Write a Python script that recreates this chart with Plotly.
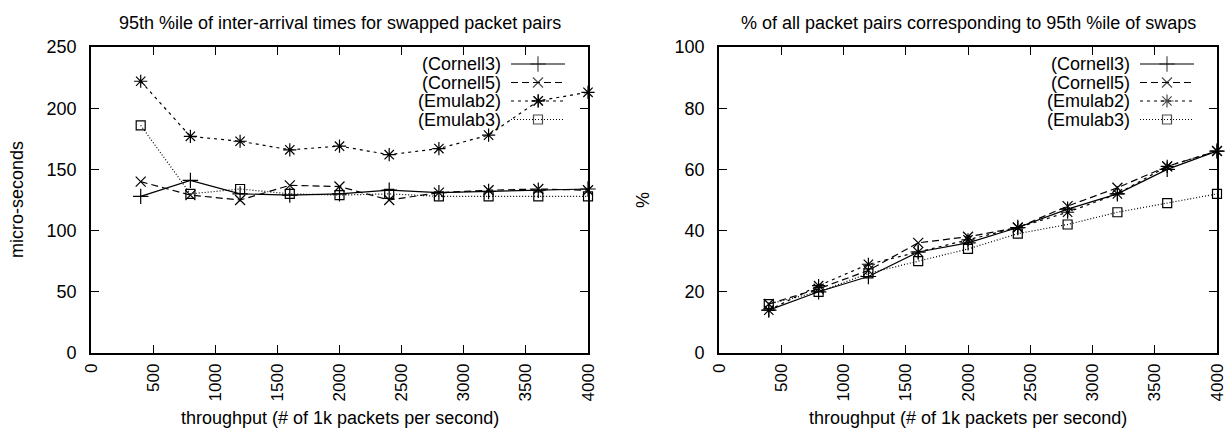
import plotly.graph_objects as go

# ---------------- data ----------------
throughput = [400, 800, 1200, 1600, 2000, 2400, 2800, 3200, 3600, 4000]
series_names = ["(Cornell3)", "(Cornell5)", "(Emulab2)", "(Emulab3)"]

# left: 95th %ile inter-arrival time (micro-seconds)
cornell3_iat = [128, 141, 130, 129, 130, 133, 131, 132, 133, 134]
cornell5_iat = [140, 129, 125, 137, 136, 125, 131, 133, 134, 133]
emulab2_iat = [222, 177, 173, 166, 169, 162, 167, 178, 206, 213]
emulab3_iat = [186, 130, 134, 130, 129, 130, 128, 128, 128, 128]

# right: % of all packet pairs
cornell3_pct = [14, 20, 25, 33, 36, 41, 47, 52, 60, 66]
cornell5_pct = [16, 21, 27, 36, 38, 41, 48, 54, 61, 66]
emulab2_pct = [14, 22, 29, 33, 37, 41, 46, 52, 61, 66]
emulab3_pct = [16, 20, 26, 30, 34, 39, 42, 46, 49, 52]

x_ticks = [0, 500, 1000, 1500, 2000, 2500, 3000, 3500, 4000]
left_y_ticks = [0, 50, 100, 150, 200, 250]
right_y_ticks = [0, 20, 40, 60, 80, 100]

left_title = "95th %ile of inter-arrival times for swapped packet pairs"
right_title = "% of all packet pairs corresponding to 95th %ile of swaps"
x_title = "throughput (# of 1k packets per second)"
left_y_title = "micro-seconds"
right_y_title = "%"

# ---------------- styles ----------------
W, H = 1228, 430
FONT = "Liberation Sans, Arial, Helvetica, sans-serif"
styles = [
    dict(dash="solid", symbol="cross-thin-open", size=11),
    dict(dash="7px,4px", symbol="x-thin-open", size=10),
    dict(dash="3px,4px", symbol="asterisk-open", size=11),
    dict(dash="1px,2px", symbol="square-open", size=9),
]
LW = 1.2

# plot frames in pixels
L_X0, L_X1 = 91, 588
R_X0, R_X1 = 719, 1217
Y_TOP, Y_BOT = 47, 353


def px(x):
    return x / W


def py(y):
    return 1 - y / H


fig = go.Figure()

left_data = [cornell3_iat, cornell5_iat, emulab2_iat, emulab3_iat]
right_data = [cornell3_pct, cornell5_pct, emulab2_pct, emulab3_pct]

for name, st, yl, yr in zip(series_names, styles, left_data, right_data):
    for xa, ya, yv in (("x", "y", yl), ("x2", "y2", yr)):
        fig.add_trace(go.Scatter(
            x=throughput, y=yv, xaxis=xa, yaxis=ya, name=name,
            mode="lines+markers", showlegend=False, cliponaxis=False,
            line=dict(color="black", width=LW, dash=st["dash"]),
            marker=dict(symbol=st["symbol"], size=st["size"], color="black",
                        line=dict(color="black", width=LW)),
        ))

# ---------------- gnuplot-style legends (hidden pixel axis) ----------------
legend_rows = [64, 82.5, 101, 119.5]
for frame_right in (L_X1, R_X1):
    line_x1 = frame_right - 23
    line_x0 = line_x1 - 54
    text_x = line_x0 - 8
    for name, st, ry in zip(series_names, styles, legend_rows):
        fig.add_trace(go.Scatter(
            x=[line_x0, (line_x0 + line_x1) / 2, line_x1], y=[ry, ry, ry],
            xaxis="x3", yaxis="y3", mode="lines+markers", showlegend=False,
            hoverinfo="skip",
            line=dict(color="black", width=LW, dash=st["dash"]),
            marker=dict(symbol=st["symbol"], size=[0, st["size"], 0], color="black",
                        line=dict(color="black", width=LW)),
        ))
        fig.add_annotation(x=px(text_x), y=py(ry), xref="paper", yref="paper",
                           text=name, showarrow=False, xanchor="right", yanchor="middle",
                           font=dict(family=FONT, size=18, color="black"))

axis_common = dict(
    showgrid=False, zeroline=False, showline=True, linecolor="black", linewidth=1.6,
    mirror="ticks", ticks="inside", ticklen=8, tickwidth=1.4, tickcolor="black",
    automargin=False,
)
yfont = dict(family=FONT, size=18, color="black")
xfont = dict(family=FONT, size=17, color="black")

fig.update_layout(
    width=W, height=H, margin=dict(l=0, r=0, t=0, b=0),
    paper_bgcolor="white", plot_bgcolor="rgba(0,0,0,0)", showlegend=False,
    xaxis=dict(domain=[px(L_X0), px(L_X1)], range=[0, 4000], tickvals=x_ticks,
               tickangle=-90, anchor="y", ticklabelstandoff=2, tickfont=xfont, **axis_common),
    yaxis=dict(domain=[py(Y_BOT), py(Y_TOP)], range=[0, 250], tickvals=left_y_ticks,
               anchor="x", ticklabelstandoff=9, tickfont=yfont, **axis_common),
    xaxis2=dict(domain=[px(R_X0), px(R_X1)], range=[0, 4000], tickvals=x_ticks,
                tickangle=-90, anchor="y2", ticklabelstandoff=2, tickfont=xfont, **axis_common),
    yaxis2=dict(domain=[py(Y_BOT), py(Y_TOP)], range=[0, 100], tickvals=right_y_ticks,
                anchor="x2", ticklabelstandoff=9, tickfont=yfont, **axis_common),
    xaxis3=dict(domain=[0, 1], range=[0, W], visible=False, fixedrange=True),
    yaxis3=dict(domain=[0, 1], range=[H, 0], visible=False, fixedrange=True, anchor="x3"),
)

# titles
for cx, t in ((px((L_X0 + L_X1) / 2), left_title), (px((R_X0 + R_X1) / 2), right_title)):
    fig.add_annotation(x=cx, y=py(23), xref="paper", yref="paper", text=t,
                       showarrow=False, xanchor="center", yanchor="middle",
                       font=dict(family=FONT, size=18, color="black"))
    fig.add_annotation(x=cx, y=py(418), xref="paper", yref="paper", text=x_title,
                       showarrow=False, xanchor="center", yanchor="middle",
                       font=dict(family=FONT, size=18, color="black"))

fig.add_annotation(x=px(17), y=py(200), xref="paper", yref="paper", text=left_y_title,
                   textangle=-90, showarrow=False, xanchor="center", yanchor="middle",
                   font=dict(family=FONT, size=18, color="black"))
fig.add_annotation(x=px(643), y=py(200), xref="paper", yref="paper", text=right_y_title,
                   textangle=-90, showarrow=False, xanchor="center", yanchor="middle",
                   font=dict(family=FONT, size=18, color="black"))

fig.write_html("out.html")
